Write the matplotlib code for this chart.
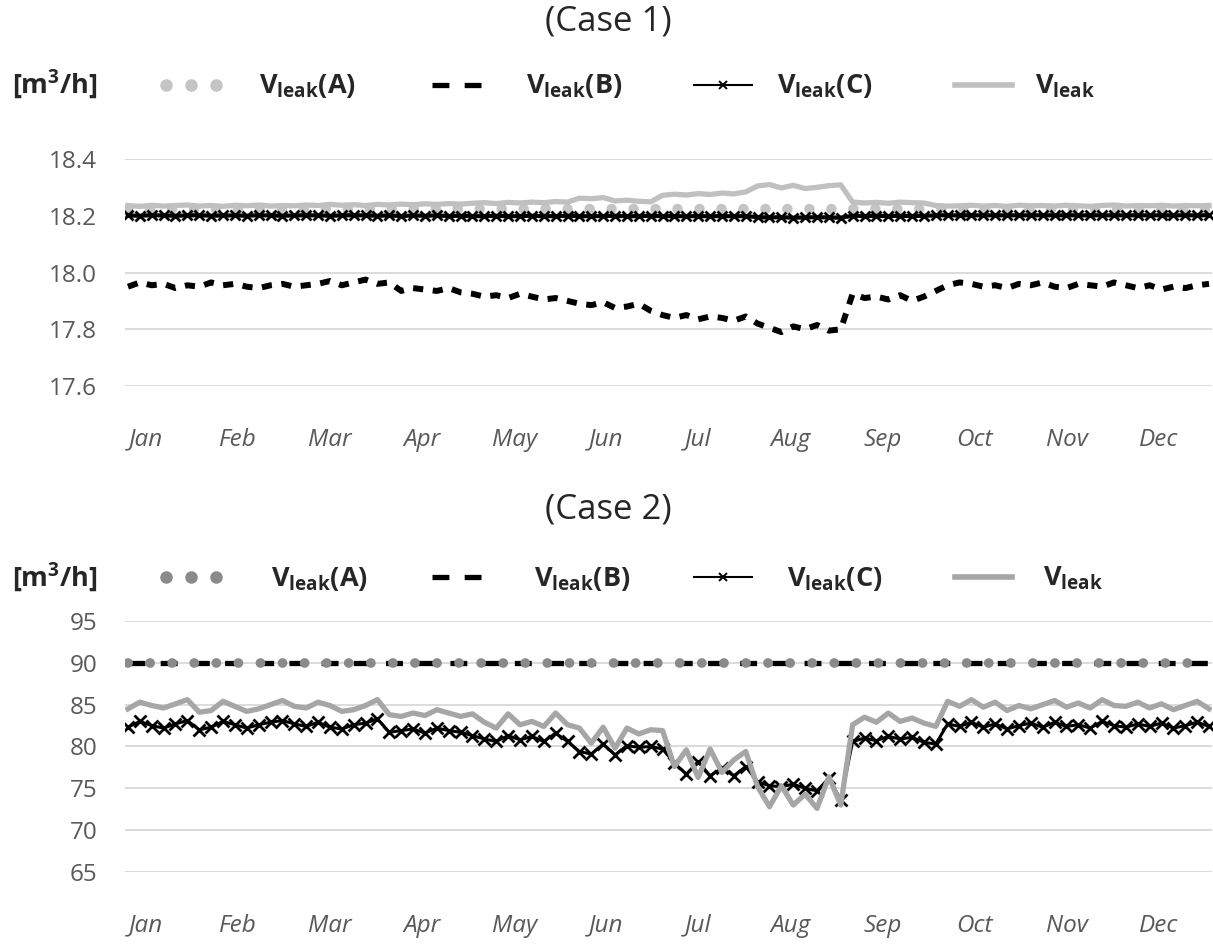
"""Leak flow comparison, two cases, daily values over one year."""

import numpy as np
import matplotlib
matplotlib.use("Agg")
import matplotlib.pyplot as plt
from matplotlib import font_manager
from matplotlib.lines import Line2D

W, H = 1213, 949


def pick_font(*names):
    have = {f.name for f in font_manager.fontManager.ttflist}
    return next((n for n in names if n in have), "DejaVu Sans")


FONT = pick_font("Liberation Sans Narrow", "Open Sans", "Liberation Sans")
plt.rcParams.update({
    "font.family": FONT,
    "mathtext.fontset": "custom",
    "mathtext.rm": FONT,
    "mathtext.bf": f"{FONT}:bold",
    "mathtext.it": f"{FONT}:italic",
})

DAYS = np.arange(0, 365, 4)
MONTHS = ["Jan", "Feb", "Mar", "Apr", "May", "Jun",
          "Jul", "Aug", "Sep", "Oct", "Nov", "Dec"]

CASE1_A = 18.225
CASE1_B = [
    17.950, 17.965, 17.955, 17.960, 17.945, 17.955, 17.950, 17.965, 17.955, 17.960,
    17.950, 17.945, 17.955, 17.960, 17.950, 17.955, 17.960, 17.970, 17.955, 17.965,
    17.975, 17.960, 17.965, 17.935, 17.945, 17.940, 17.935, 17.945, 17.930, 17.925,
    17.915, 17.920, 17.910, 17.925, 17.915, 17.905, 17.910, 17.900, 17.890, 17.885,
    17.895, 17.875, 17.880, 17.890, 17.865, 17.850, 17.840, 17.850, 17.835, 17.845,
    17.840, 17.830, 17.845, 17.820, 17.805, 17.790, 17.810, 17.800, 17.815, 17.795,
    17.800, 17.925, 17.910, 17.915, 17.905, 17.920, 17.900, 17.915, 17.935, 17.955,
    17.965, 17.960, 17.950, 17.955, 17.945, 17.960, 17.955, 17.965, 17.950, 17.945,
    17.960, 17.955, 17.950, 17.965, 17.955, 17.945, 17.955, 17.940, 17.950, 17.945,
    17.955, 17.960,
]
CASE1_C = [
    18.201, 18.200, 18.202, 18.201, 18.200, 18.201, 18.202, 18.200, 18.201, 18.201,
    18.200, 18.202, 18.201, 18.200, 18.201, 18.202, 18.201, 18.200, 18.201, 18.202,
    18.201, 18.200, 18.201, 18.199, 18.201, 18.200, 18.201, 18.199, 18.200, 18.198,
    18.199, 18.200, 18.198, 18.199, 18.200, 18.198, 18.199, 18.200, 18.199, 18.198,
    18.199, 18.200, 18.198, 18.199, 18.200, 18.198, 18.199, 18.198, 18.199, 18.198,
    18.199, 18.198, 18.199, 18.195, 18.194, 18.195, 18.193, 18.194, 18.195, 18.194,
    18.193, 18.200, 18.199, 18.200, 18.199, 18.200, 18.199, 18.200, 18.201, 18.202,
    18.201, 18.202, 18.201, 18.202, 18.201, 18.202, 18.201, 18.202, 18.201, 18.202,
    18.201, 18.202, 18.201, 18.202, 18.201, 18.202, 18.201, 18.202, 18.201, 18.202,
    18.201, 18.202,
]
CASE1_V = [
    18.236, 18.233, 18.237, 18.234, 18.236, 18.238, 18.234, 18.236, 18.233, 18.237,
    18.235, 18.238, 18.234, 18.236, 18.235, 18.238, 18.236, 18.240, 18.237, 18.239,
    18.236, 18.240, 18.238, 18.241, 18.239, 18.242, 18.240, 18.243, 18.241, 18.244,
    18.246, 18.243, 18.247, 18.245, 18.248, 18.246, 18.250, 18.248, 18.262, 18.260,
    18.264, 18.252, 18.255, 18.251, 18.249, 18.272, 18.276, 18.273, 18.278, 18.275,
    18.280, 18.277, 18.284, 18.305, 18.310, 18.298, 18.307, 18.296, 18.300, 18.306,
    18.309, 18.248, 18.245, 18.247, 18.244, 18.248, 18.246, 18.245, 18.236, 18.234,
    18.235, 18.237, 18.234, 18.236, 18.233, 18.237, 18.235, 18.236, 18.234, 18.237,
    18.235, 18.233, 18.236, 18.238, 18.234, 18.236, 18.235, 18.237, 18.234, 18.236,
    18.235, 18.236,
]

CASE2_A = 90.0
CASE2_B = 90.0
CASE2_C = [
    82.3, 83.0, 82.5, 82.2, 82.7, 83.1, 82.0, 82.3, 83.0, 82.6,
    82.2, 82.6, 82.9, 83.1, 82.7, 82.4, 82.9, 82.3, 82.1, 82.6,
    82.8, 83.3, 81.7, 81.9, 82.1, 81.6, 82.2, 81.9, 81.7, 81.3,
    80.9, 80.6, 81.3, 80.8, 81.2, 80.6, 81.6, 80.6, 79.4, 79.1,
    80.3, 79.0, 80.1, 79.9, 80.0, 79.7, 78.0, 76.7, 78.2, 76.5,
    77.4, 76.5, 77.6, 75.8, 75.3, 75.2, 75.5, 75.0, 74.7, 76.2,
    73.6, 80.6, 81.0, 80.7, 81.2, 80.9, 81.1, 80.5, 80.3, 82.7,
    82.4, 82.9, 82.3, 82.7, 82.1, 82.5, 82.8, 82.3, 82.9, 82.4,
    82.6, 82.2, 83.0, 82.5, 82.3, 82.7, 82.4, 82.8, 82.2, 82.5,
    82.9, 82.4,
]
CASE2_V = [
    84.5, 85.3, 84.9, 84.6, 85.1, 85.6, 84.1, 84.3, 85.4, 84.8,
    84.2, 84.5, 85.0, 85.5, 84.8, 84.6, 85.3, 84.9, 84.2, 84.4,
    84.9, 85.6, 83.8, 83.6, 84.0, 83.7, 84.4, 84.0, 83.6, 83.9,
    82.9, 82.2, 83.9, 82.6, 83.0, 82.4, 84.0, 82.6, 82.2, 80.4,
    82.3, 79.8, 82.2, 81.5, 82.0, 81.9, 77.6, 79.6, 76.3, 79.7,
    76.9, 78.4, 79.4, 75.2, 72.8, 75.3, 73.0, 74.3, 72.6, 76.4,
    73.0, 82.6, 83.5, 82.9, 84.0, 83.0, 83.4, 82.8, 82.4, 85.4,
    84.8, 85.6, 84.7, 85.3, 84.3, 84.9, 84.5, 85.0, 85.5, 84.7,
    85.2, 84.6, 85.6, 84.9, 84.8, 85.3, 84.6, 85.1, 84.4, 84.9,
    85.4, 84.5,
]

TICK_GREY = "#595959"
GRID_GREY = "#d9d9d9"
TEXT_DARK = "#262626"


def fx(px):
    return px / W


def fy(py):
    return 1 - py / H


def style_axes(ax, ylim, yticks, fmt):
    ax.set_xlim(-1, 365)
    ax.set_ylim(*ylim)
    ax.set_yticks(yticks)
    ax.set_yticklabels([fmt.format(v) for v in yticks])
    ax.set_xticks(np.arange(12) * 31 + 6)
    ax.set_xticklabels(MONTHS, fontstyle="italic")
    for s in ax.spines.values():
        s.set_visible(False)
    ax.tick_params(length=0, labelsize=17.5, labelcolor=TICK_GREY)
    ax.tick_params(axis="x", pad=30)
    ax.tick_params(axis="y", pad=20)
    ax.grid(axis="y", color=GRID_GREY, lw=1.3)
    ax.set_axisbelow(True)


def legend_row(fig, y_mark, y_text, dot_color, line_color, text_x):
    tf = fig.transFigure
    fig.text(fx(12), fy(y_text), r"$\mathbf{[m^3/h]}$", size=19.5,
             color=TEXT_DARK, va="baseline")
    fig.add_artist(Line2D([fx(166), fx(191), fx(216)], [fy(y_mark)] * 3,
                          transform=tf, ls="none", marker="o", ms=8,
                          color=dot_color))
    fig.add_artist(Line2D([fx(432), fx(481)], [fy(y_mark)] * 2, transform=tf,
                          color="black", lw=3.8, ls=(0, (3.2, 2.9))))
    fig.add_artist(Line2D([fx(694), fx(723), fx(752)], [fy(y_mark)] * 3,
                          transform=tf, color="black", lw=1.5, marker="x",
                          markevery=[1], ms=6, mew=1.4))
    fig.add_artist(Line2D([fx(955), fx(1012)], [fy(y_mark)] * 2, transform=tf,
                          color=line_color, lw=4))
    labels = [r"$\mathbf{V_{leak}(A)}$", r"$\mathbf{V_{leak}(B)}$",
              r"$\mathbf{V_{leak}(C)}$", r"$\mathbf{V_{leak}}$"]
    for x, lab in zip(text_x, labels):
        fig.text(fx(x), fy(y_text), lab, size=19.5, color=TEXT_DARK,
                 va="baseline")


fig = plt.figure(figsize=(W / 100, H / 100), dpi=100)
ax1 = fig.add_axes([fx(125), fy(386), fx(1212) - fx(125), fy(159) - fy(386)])
ax2 = fig.add_axes([fx(125), fy(872), fx(1212) - fx(125), fy(621) - fy(872)])

n = len(DAYS)

# case 1
ax1.plot(DAYS, [CASE1_A] * n, color="#c4c4c4", lw=7.5, ls=(0, (0.01, 2.1)),
         dash_capstyle="round", zorder=3)
ax1.plot(DAYS, CASE1_B, color="black", lw=4.3, ls=(0, (1.7, 1.6)), zorder=3)
ax1.plot(DAYS, CASE1_C, color="black", lw=3, marker="x", ms=6.5, mew=2,
         zorder=4)
ax1.plot(DAYS, CASE1_V, color="#c0c0c0", lw=3.8, zorder=5)
style_axes(ax1, (17.6, 18.4), [17.6, 17.8, 18.0, 18.2, 18.4], "{:.1f}")

# case 2
ax2.plot(DAYS, [CASE2_B] * n, color="black", lw=3.8, ls=(0, (3.2, 2.9)),
         zorder=3)
ax2.plot(DAYS, [CASE2_A] * n, color="#8a8a8a", lw=7, ls=(0, (0.01, 2.26)),
         dash_capstyle="round", zorder=4)
ax2.plot(DAYS, CASE2_C, color="black", lw=2.2, marker="x", ms=8, mew=2,
         zorder=5)
ax2.plot(DAYS, CASE2_V, color="#a6a6a6", lw=3.8, zorder=6)
style_axes(ax2, (65, 95), [65, 70, 75, 80, 85, 90, 95], "{:.0f}")

fig.text(fx(608), fy(22), "(Case 1)", ha="center", va="center", size=25,
         color=TEXT_DARK)
fig.text(fx(608), fy(510), "(Case 2)", ha="center", va="center", size=25,
         color=TEXT_DARK)

legend_row(fig, 85, 93, "#c4c4c4", "#c0c0c0", [259, 526, 777, 1035])
legend_row(fig, 577, 586, "#8a8a8a", "#a6a6a6", [271, 534, 787, 1043])

fig.savefig("out.png", dpi=100)
